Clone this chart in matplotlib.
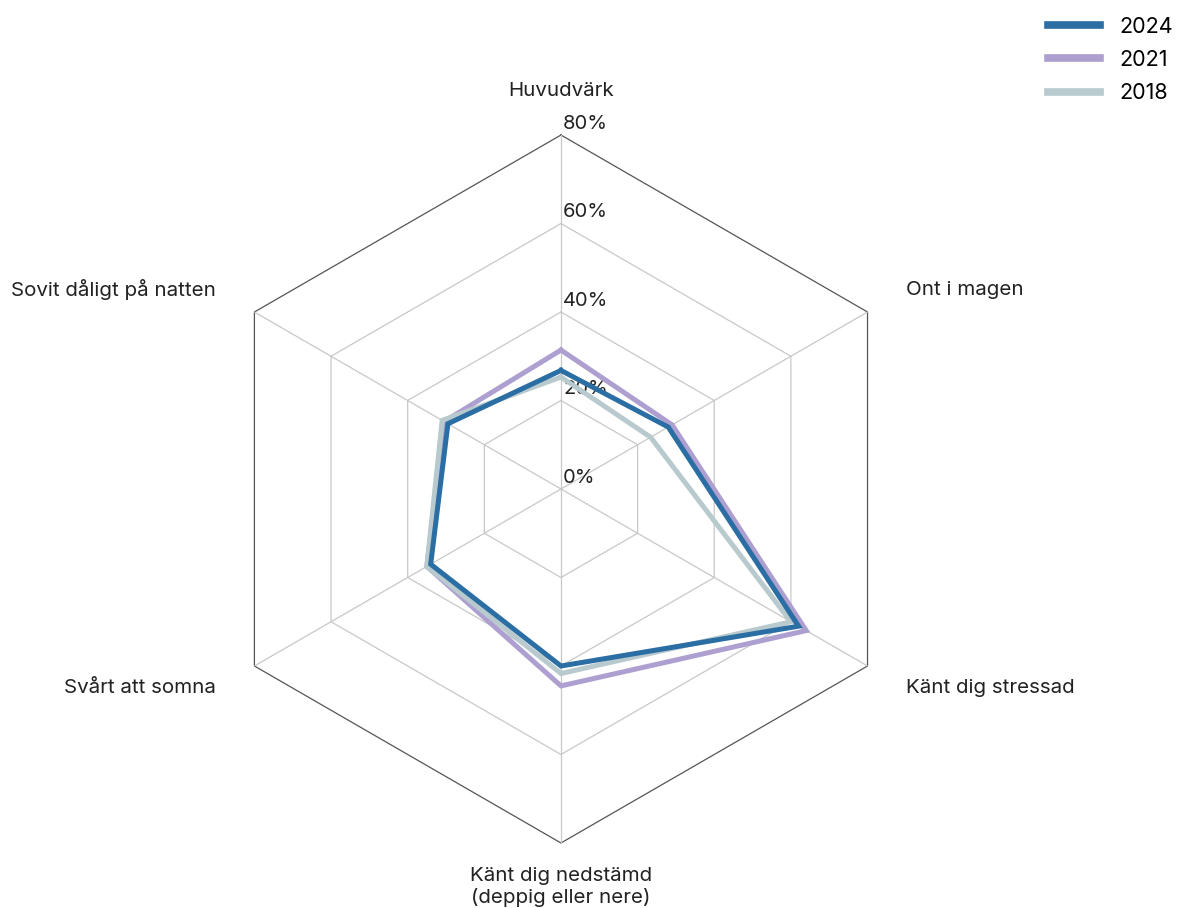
import numpy as np
import matplotlib.pyplot as plt

plt.rcParams["font.family"] = ["Inter", "DejaVu Sans"]

categories = [
    "Huvudvärk",
    "Ont i magen",
    "Känt dig stressad",
    "Känt dig nedstämd\n(deppig eller nere)",
    "Svårt att somna",
    "Sovit dåligt på natten",
]
years = ["2024", "2021", "2018"]
values_2024 = [26.8, 28, 62, 40, 34, 29.5]
values_2021 = [31.4, 29, 64, 44.5, 35, 30.5]
values_2018 = [25.3, 23.4, 60, 41.7, 35, 31]
ticks = [0, 20, 40, 60, 80]

colors = {"2024": "#2a6ea4", "2021": "#ad9fd0", "2018": "#b8cacd"}
series = {"2024": values_2024, "2021": values_2021, "2018": values_2018}

n = len(categories)
theta = np.linspace(0, 2 * np.pi, n, endpoint=False)
theta_closed = np.append(theta, theta[0])

fig = plt.figure(figsize=(11.78, 9.08), dpi=100)
ax = fig.add_axes([0.1757, 0.0716, 0.601, 0.7797], projection="polar")
ax.set_theta_offset(np.pi / 2)
ax.set_theta_direction(-1)
ax.set_ylim(0, 80)
ax.grid(False)
ax.spines["polar"].set_visible(False)
ax.set_xticks([])
ax.set_yticks([])
ax.patch.set_visible(False)

# hexagonal grid
for t in ticks[1:]:
    col = "#555555" if t == ticks[-1] else "#c8c8c8"
    ax.plot(theta_closed, [t] * (n + 1), color=col, lw=0.9, zorder=1,
            clip_on=False)
for th in theta:
    ax.plot([th, th], [0, ticks[-1]], color="#c8c8c8", lw=0.9, zorder=1)

# tick labels
for t in ticks:
    ax.annotate(f"{t}%", xy=(0, t), xytext=(1.5, 1.5),
                textcoords="offset points", ha="left", va="bottom",
                fontsize=14.5, color="#222222", zorder=2)

# category labels
for th, cat in zip(theta, categories):
    s = np.sin(th)
    if abs(s) < 1e-6:
        ha = "center"
    elif s > 0:
        ha = "left"
    else:
        ha = "right"
    ax.text(th, 90, cat, ha=ha, va="center", fontsize=14.8, color="#222222",
            linespacing=1.2, clip_on=False)

# data
for yr, lw in [("2021", 3.6), ("2018", 3.6), ("2024", 3.6)]:
    vals = series[yr] + [series[yr][0]]
    ax.plot(theta_closed, vals, color=colors[yr], lw=lw, zorder=5,
            solid_joinstyle="miter", label=yr)

handles, labels = ax.get_legend_handles_labels()
order = [labels.index(y) for y in years]
leg = fig.legend([handles[i] for i in order], years, loc="upper right",
                 bbox_to_anchor=(1.012, 1.003), frameon=False, fontsize=15.5,
                 handlelength=2.4, handletextpad=0.9, labelspacing=0.62)
for line in leg.get_lines():
    line.set_linewidth(5.5)

fig.savefig("out.png", dpi=100)
